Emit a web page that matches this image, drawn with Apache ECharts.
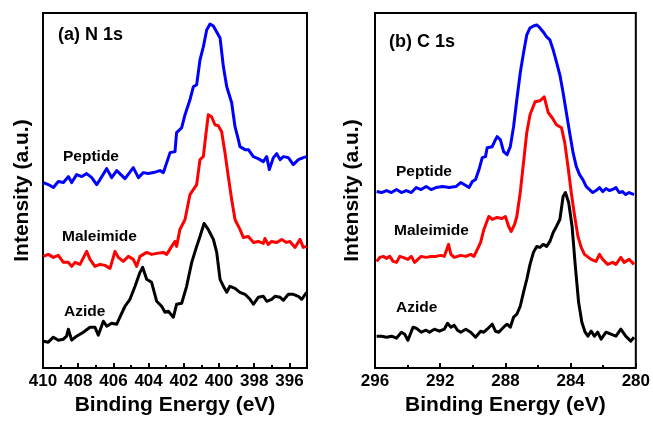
<!DOCTYPE html>
<html><head><meta charset="utf-8">
<script src="https://cdn.jsdelivr.net/npm/echarts@6/dist/echarts.min.js"></script>
<style>html,body{margin:0;padding:0;background:#fff}#c{width:653px;height:421px}</style>
</head><body><div id="c"></div>
<script>
// Panel (a) N 1s : [binding energy (eV), intensity (a.u., offset included)]
const nPeptide = [[409.98,186],[409.70,184],[409.41,181],[409.13,187],[408.84,186],[408.56,192],[408.37,186],[408.09,194],[407.80,192],[407.52,195],[407.23,191],[406.95,184],[406.76,189],[406.38,200],[406.10,191],[405.81,198],[405.34,190],[404.87,201],[404.58,191],[404.30,196],[404.02,195],[403.73,196],[403.35,198],[403.16,196],[402.97,206],[402.78,216],[402.50,217],[402.41,236],[402.12,241],[401.93,254],[401.65,269],[401.46,282],[401.27,284],[401.08,309],[400.89,322],[400.70,339],[400.51,345],[400.32,343],[400.13,337],[399.94,331],[399.75,302],[399.56,282],[399.28,266],[399.09,242],[398.90,229],[398.81,222],[398.52,219],[398.33,219],[398.05,212],[397.77,210],[397.48,207],[397.29,212],[397.14,199],[396.91,211],[396.72,215],[396.53,209],[396.34,212],[396.06,211],[395.78,204],[395.49,209],[395.21,211],[395.02,212]];
const nMaleimide = [[409.98,112],[409.70,114],[409.41,111],[409.13,113],[408.84,106],[408.56,106],[408.37,102],[408.18,106],[407.90,104],[407.52,117],[407.33,109],[407.05,102],[406.76,104],[406.48,103],[406.19,100],[405.91,117],[405.72,111],[405.44,107],[405.15,112],[404.87,109],[404.68,102],[404.49,112],[404.11,116],[403.83,114],[403.54,115],[403.16,116],[402.97,114],[402.69,122],[402.50,127],[402.41,122],[402.22,139],[401.93,149],[401.65,174],[401.27,184],[401.08,209],[400.89,212],[400.80,226],[400.61,254],[400.42,252],[400.23,244],[400.04,243],[399.85,237],[399.66,216],[399.47,192],[399.28,169],[399.09,149],[398.81,139],[398.62,131],[398.33,132],[398.05,126],[397.77,127],[397.48,125],[397.39,130],[397.20,124],[397.01,127],[396.72,126],[396.44,129],[396.16,126],[395.97,127],[395.68,121],[395.40,129],[395.21,121],[395.02,122]];
const nAzide = [[409.98,27],[409.70,26],[409.41,31],[409.13,28],[408.84,29],[408.66,32],[408.56,39],[408.37,28],[408.09,32],[407.71,36],[407.33,41],[407.05,41],[406.86,33],[406.57,47],[406.38,42],[406.10,45],[405.81,44],[405.63,51],[405.34,62],[405.06,69],[404.77,82],[404.49,96],[404.34,101],[404.11,89],[403.83,86],[403.54,67],[403.26,62],[403.07,56],[402.88,57],[402.59,51],[402.41,64],[402.12,65],[401.84,82],[401.55,106],[401.27,122],[401.08,132],[400.85,145],[400.61,139],[400.32,129],[400.13,116],[399.94,89],[399.75,82],[399.56,76],[399.38,82],[399.09,80],[398.81,76],[398.52,74],[398.24,69],[398.05,64],[397.77,71],[397.48,72],[397.29,67],[397.01,69],[396.82,72],[396.53,71],[396.34,68],[396.06,74],[395.78,74],[395.49,72],[395.30,69],[395.02,76]];

// Panel (b) C 1s
const cPeptide = [[295.90,177],[295.60,176],[295.29,178],[294.99,176],[294.68,179],[294.38,176],[294.08,178],[293.77,176],[293.47,181],[293.17,179],[292.86,182],[292.56,179],[292.26,181],[291.85,182],[291.45,181],[291.04,182],[290.74,186],[290.43,183],[290.23,181],[290.03,187],[289.83,189],[289.62,199],[289.42,211],[289.22,212],[289.12,221],[288.81,222],[288.61,229],[288.51,232],[288.31,229],[288.11,217],[287.90,214],[287.70,222],[287.50,242],[287.30,269],[287.09,296],[286.89,316],[286.69,334],[286.49,341],[286.28,343],[286.08,344],[285.88,341],[285.68,337],[285.47,332],[285.27,329],[285.07,319],[284.87,307],[284.66,294],[284.46,276],[284.26,256],[284.06,236],[283.85,216],[283.65,202],[283.45,194],[283.25,189],[283.04,182],[282.84,179],[282.64,176],[282.44,178],[282.23,181],[282.03,177],[281.83,180],[281.63,178],[281.42,179],[281.22,181],[281.02,176],[280.82,177],[280.62,174],[280.41,176],[280.11,174]];
const cMaleimide = [[295.90,107],[295.70,111],[295.49,112],[295.29,110],[295.09,112],[294.89,107],[294.68,106],[294.48,112],[294.28,111],[293.98,109],[293.77,112],[293.57,106],[293.37,109],[293.17,112],[292.86,111],[292.56,112],[292.26,112],[291.95,113],[291.75,112],[291.49,124],[291.34,114],[291.14,111],[290.94,112],[290.74,113],[290.43,112],[290.13,114],[289.93,112],[289.72,119],[289.52,126],[289.32,139],[289.02,152],[288.81,149],[288.51,151],[288.21,150],[288.00,152],[287.80,142],[287.64,137],[287.44,144],[287.30,152],[287.09,176],[286.89,206],[286.69,236],[286.49,254],[286.18,267],[285.88,268],[285.62,272],[285.37,256],[285.13,251],[284.87,244],[284.56,241],[284.36,226],[284.16,202],[283.96,176],[283.75,152],[283.55,132],[283.35,121],[283.15,114],[282.74,109],[282.44,107],[282.23,114],[282.03,109],[281.73,104],[281.42,106],[281.22,104],[280.92,111],[280.72,106],[280.41,109],[280.11,104]];
const cAzide = [[295.90,32],[295.60,32],[295.29,31],[294.99,32],[294.68,30],[294.38,36],[294.18,34],[293.98,28],[293.67,41],[293.47,40],[293.17,36],[292.86,38],[292.66,36],[292.36,39],[292.05,37],[291.75,39],[291.55,45],[291.34,41],[291.14,43],[290.94,38],[290.74,36],[290.43,39],[290.13,36],[289.83,31],[289.52,37],[289.32,36],[289.12,39],[288.81,44],[288.61,37],[288.41,36],[288.11,41],[287.90,44],[287.70,41],[287.50,51],[287.30,54],[287.09,62],[286.89,76],[286.69,89],[286.49,104],[286.28,116],[286.08,122],[285.88,121],[285.68,124],[285.47,122],[285.27,127],[285.07,136],[284.87,142],[284.66,149],[284.46,172],[284.32,176],[284.12,166],[283.91,142],[283.71,102],[283.51,66],[283.31,46],[283.11,36],[282.94,32],[282.74,37],[282.54,32],[282.34,36],[282.13,29],[281.83,36],[281.53,34],[281.22,32],[280.92,39],[280.62,32],[280.31,27],[280.11,31]];

const nMajorTicks = [396,398,400,402,404,406,408,410];
const nMinorTicks = [397,399,401,403,405,407,409];
const panelTitles = ['(a) N 1s','(b) C 1s'];
const sampleNames = ['Peptide','Maleimide','Azide'];
const sampleColors = ['#0000ff','#ff0000','#000000'];

const FONT = '"Liberation Sans", Arial, sans-serif';
const chart = echarts.init(document.getElementById('c'), null, {renderer:'canvas'});

const grids = [
  {left:43, top:13, width:264, height:356, show:true, borderColor:'#000', borderWidth:2, backgroundColor:'transparent'},
  {left:375, top:13, width:263, height:356, show:true, borderColor:'#000', borderWidth:2, backgroundColor:'transparent'}
];
const xName = {name:'Binding Energy (eV)', nameLocation:'middle', nameGap:21,
  nameTextStyle:{fontFamily:FONT, fontWeight:'bold', fontSize:21, color:'#000'}};
const xAxes = [
  Object.assign({gridIndex:0, type:'value', inverse:true, min:395, max:410, position:'bottom',
    axisLine:{show:false}, splitLine:{show:false},
    axisTick:{show:true, inside:true, length:5, lineStyle:{color:'#000', width:2}, customValues:nMajorTicks},
    axisLabel:{show:true, customValues:nMajorTicks, margin:5, color:'#000', fontFamily:FONT, fontWeight:'bold', fontSize:17}}, xName),
  {gridIndex:0, type:'value', inverse:true, min:395, max:410, position:'bottom',
    axisLine:{show:false}, splitLine:{show:false}, axisLabel:{show:false},
    axisTick:{show:true, inside:true, length:3, lineStyle:{color:'#000', width:2}, customValues:nMinorTicks}},
  Object.assign({gridIndex:1, type:'value', inverse:true, min:280, max:296, interval:4, position:'bottom',
    axisLine:{show:false}, splitLine:{show:false},
    axisTick:{show:true, inside:true, length:5, lineStyle:{color:'#000', width:2}},
    minorTick:{show:true, splitNumber:2, length:3, lineStyle:{color:'#000', width:2}},
    axisLabel:{show:true, margin:5, color:'#000', fontFamily:FONT, fontWeight:'bold', fontSize:17}}, xName)
];
const yCommon = {type:'value', min:0, max:356, name:'Intensity (a.u.)', nameLocation:'middle',
  nameTextStyle:{fontFamily:FONT, fontWeight:'bold', fontSize:21, color:'#000'},
  axisLine:{show:false}, axisTick:{show:false}, axisLabel:{show:false}, splitLine:{show:false}};
const yAxes = [Object.assign({gridIndex:0, nameGap:10}, yCommon), Object.assign({gridIndex:1, nameGap:12}, yCommon)];

const panels = [[nPeptide,nMaleimide,nAzide],[cPeptide,cMaleimide,cAzide]];
const series = [];
panels.forEach((p, pi) => {
  p.forEach((d, si) => {
    series.push({type:'line', name:sampleNames[si], xAxisIndex: pi===0?0:2, yAxisIndex:pi,
      data:d, showSymbol:false, symbol:'none', clip:true,
      lineStyle:{color:sampleColors[si], width:3, join:'round'}, itemStyle:{color:sampleColors[si]}});
  });
});

const txt = (l, t, s, size) => ({type:'text', left:l, top:t, style:{text:s, fill:'#000', font:'bold '+size+'px '+FONT}});
const graphics = [
  txt(58, 26, panelTitles[0], 18), txt(389, 33, panelTitles[1], 18),
  txt(63, 149, sampleNames[0], 15.5), txt(62, 229, sampleNames[1], 15.5), txt(64, 304, sampleNames[2], 15.5),
  txt(396, 164, sampleNames[0], 15.5), txt(394, 223, sampleNames[1], 15.5), txt(396, 300, sampleNames[2], 15.5)
];

chart.setOption({animation:false, backgroundColor:'#fff', grid:grids, xAxis:xAxes, yAxis:yAxes, series:series, graphic:graphics});
</script></body></html>
